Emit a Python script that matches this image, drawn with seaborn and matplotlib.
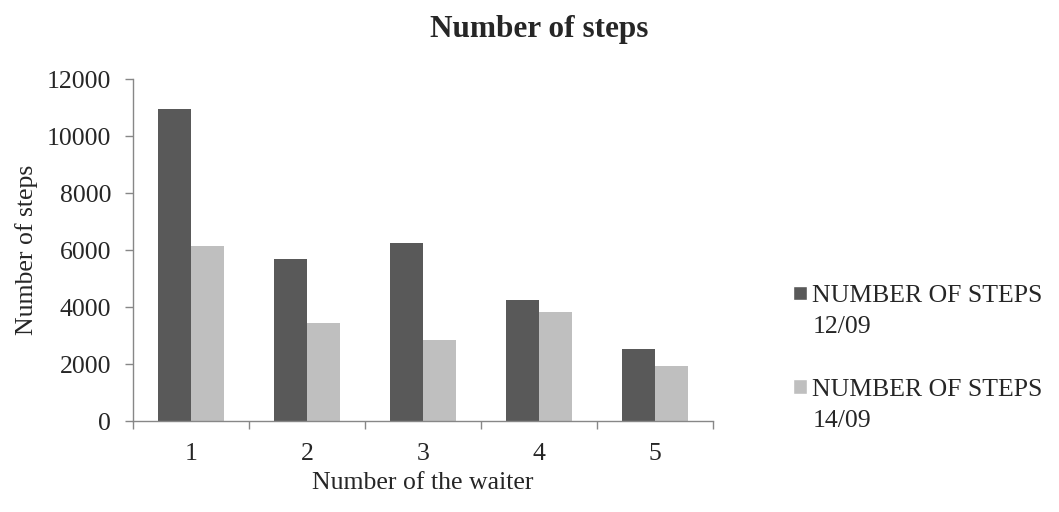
import matplotlib
matplotlib.use("Agg")
import matplotlib.pyplot as plt
import seaborn as sns
import pandas as pd
from matplotlib.patches import Patch

waiters = ["1", "2", "3", "4", "5"]
steps_1209 = [10950, 5700, 6230, 4250, 2540]
steps_1409 = [6130, 3440, 2840, 3840, 1940]
series_names = ["12/09", "14/09"]
colors = ["#595959", "#BFBFBF"]

df = pd.DataFrame({
    "waiter": waiters * 2,
    "steps": steps_1209 + steps_1409,
    "series": [series_names[0]] * len(waiters) + [series_names[1]] * len(waiters),
})

sns.set_theme(style="white")
plt.rcParams["font.family"] = ["Liberation Serif", "DejaVu Serif"]
FS = 18.5

fig = plt.figure(figsize=(10.59, 5.12), dpi=100)
ax = fig.add_axes([0.1256, 0.1777, 0.673 - 0.1256, 0.8457 - 0.1777])

sns.barplot(data=df, x="waiter", y="steps", hue="series", palette=colors,
            width=0.57, gap=0, ax=ax, legend=False, saturation=1,
            edgecolor="none", linewidth=0)

ax.set_xlim(-0.5, len(waiters) - 0.5)
ax.set_ylim(0, 12000)
ax.set_yticks(range(0, 12001, 2000))
ax.set_yticklabels([str(v) for v in range(0, 12001, 2000)], fontsize=FS)
ax.set_xticks(range(len(waiters)))
ax.set_xticklabels(waiters, fontsize=FS)
ax.set_xticks([i - 0.5 for i in range(len(waiters) + 1)], minor=True)
ax.tick_params(axis="x", which="major", length=0, pad=16)
ax.tick_params(axis="x", which="minor", length=5.8, width=1, color="#878787", direction="out", bottom=True)
ax.tick_params(axis="y", which="major", length=5.8, width=1, color="#878787", direction="out", left=True, pad=10)

for side in ["top", "right"]:
    ax.spines[side].set_visible(False)
for side in ["left", "bottom"]:
    ax.spines[side].set_color("#878787")
    ax.spines[side].set_linewidth(1)

ax.set_xlabel("Number of the waiter", fontsize=FS, labelpad=5)
ax.set_ylabel("Number of steps", fontsize=FS, labelpad=6)
fig.text(0.509, 0.943, "Number of steps", ha="center", va="center",
         fontsize=22.5, fontweight="bold")

empty = Patch(facecolor="none", edgecolor="none")
handles = [Patch(facecolor=colors[0]), empty, empty, Patch(facecolor=colors[1]), empty]
labels = ["NUMBER OF STEPS", series_names[0], " ", "NUMBER OF STEPS", series_names[1]]
fig.legend(handles, labels, loc="upper left", bbox_to_anchor=(0.749, 0.443),
           frameon=False, fontsize=FS, handlelength=0.55, handleheight=0.5,
           handletextpad=0.2, labelspacing=0.36, borderaxespad=0, borderpad=0)

fig.savefig("out.png", dpi=100)
